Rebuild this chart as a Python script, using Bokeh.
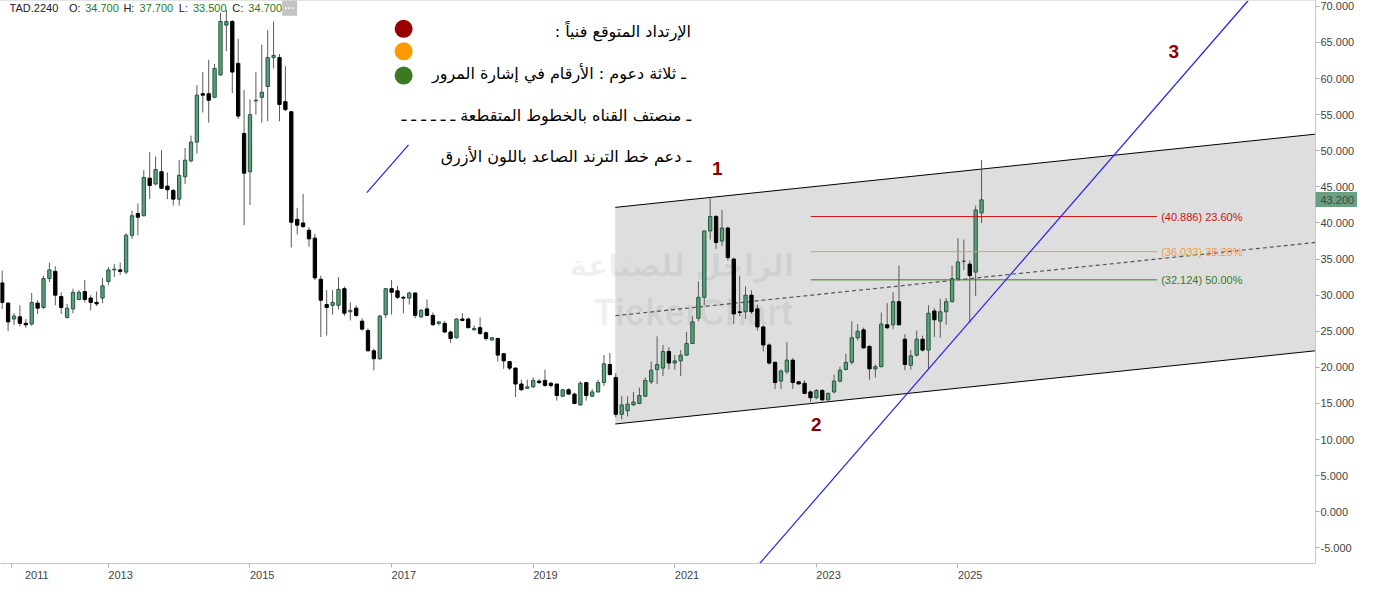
import pandas as pd
from bokeh.plotting import figure
from bokeh.models import Range1d, FixedTicker, NumeralTickFormatter, Span
from bokeh.core.properties import value
from bokeh.embed import file_html
from bokeh.resources import INLINE

# ---------------- data ----------------
start_month = "2011-07"
open_ = [31.7, 28.9, 26.7, 27.0, 26.1, 26.0, 28.9, 28.3, 32.3, 33.3,
         29.8, 26.9, 28.1, 29.4, 30.5, 29.6, 29.0, 29.6, 31.9, 33.5,
         33.5, 33.2, 38.3, 41.3, 41.0, 46.2, 45.4, 47.1, 45.1, 44.5,
         43.3, 46.4, 48.6, 51.2, 57.9, 57.9, 57.4, 60.5, 67.4, 67.9,
         62.1, 52.4, 47.1, 56.9, 57.4, 58.9, 62.9, 62.9, 56.8, 55.4,
         40.5, 40.0, 39.0, 37.9, 32.2, 28.7, 28.6, 28.6, 30.9, 27.7,
         28.2, 26.4, 25.1, 22.3, 21.2, 27.3, 30.9, 30.6, 29.7, 29.6,
         30.3, 27.0, 28.1, 27.2, 26.1, 26.1, 24.9, 24.1, 26.7, 26.7,
         25.2, 25.5, 24.8, 23.8, 24.0, 21.9, 20.8, 19.9, 17.7, 17.1,
         17.3, 18.1, 18.2, 17.8, 17.7, 16.0, 16.9, 16.3, 14.8, 17.9,
         16.0, 16.6, 17.9, 20.4, 18.6, 13.5, 14.0, 14.8, 15.0, 16.0,
         18.0, 19.7, 19.9, 22.2, 20.6, 20.9, 21.7, 23.3, 26.8, 29.7,
         38.9, 40.9, 37.5, 39.3, 35.0, 27.7, 27.7, 30.0, 28.1, 25.6,
         23.1, 20.7, 18.1, 19.4, 21.0, 18.0, 17.8, 16.6, 15.8, 16.8,
         15.5, 16.6, 18.1, 19.7, 20.7, 24.1, 25.2, 22.9, 19.8, 20.1,
         25.9, 25.9, 29.1, 23.9, 20.3, 21.7, 23.9, 22.4, 27.8, 26.4,
         27.7, 29.1, 32.3, 34.7, 34.3, 33.2, 41.4]
high = [33.4, 29.0, 27.5, 28.6, 26.7, 30.3, 29.3, 32.7, 34.5, 34.0,
        30.4, 28.8, 30.9, 30.7, 32.1, 30.0, 30.5, 32.4, 33.9, 34.3,
        34.5, 38.6, 41.7, 42.7, 47.3, 49.8, 49.2, 50.1, 47.0, 44.7,
        48.7, 50.4, 52.1, 59.1, 60.9, 62.6, 62.0, 69.1, 69.5, 68.1,
        65.5, 58.4, 57.1, 60.9, 64.7, 66.7, 67.9, 63.4, 61.7, 55.5,
        42.1, 44.0, 39.4, 38.5, 32.7, 30.7, 30.7, 32.5, 31.2, 29.0,
        28.6, 26.8, 25.4, 22.6, 27.3, 31.0, 32.1, 31.3, 29.9, 30.5,
        30.4, 28.1, 29.4, 27.6, 26.4, 26.4, 25.1, 26.8, 27.5, 26.9,
        25.8, 26.9, 25.0, 24.2, 24.1, 21.9, 20.9, 20.0, 18.3, 18.3,
        18.6, 18.4, 19.7, 18.0, 17.7, 17.0, 17.1, 16.5, 18.1, 18.0,
        17.0, 18.3, 21.7, 22.0, 19.2, 16.0, 16.0, 16.6, 17.2, 18.6,
        20.8, 24.3, 23.1, 22.8, 21.7, 22.4, 24.9, 27.1, 31.9, 38.9,
        43.4, 41.1, 41.8, 39.5, 35.2, 32.7, 31.2, 30.7, 28.7, 25.8,
        23.3, 20.8, 19.7, 23.5, 21.3, 18.1, 18.2, 16.8, 17.0, 17.0,
        16.5, 19.0, 20.1, 21.9, 26.4, 26.0, 25.5, 23.1, 20.4, 27.6,
        28.9, 30.4, 34.1, 24.6, 22.4, 25.1, 24.4, 28.6, 28.2, 29.5,
        29.6, 34.1, 37.9, 37.7, 34.8, 42.4, 48.7]
low = [28.1, 25.0, 25.9, 25.7, 25.5, 25.8, 27.4, 28.1, 31.8, 28.6,
       27.4, 26.8, 27.5, 29.3, 29.0, 27.9, 28.5, 28.9, 31.4, 32.5,
       32.8, 32.9, 37.8, 38.3, 40.9, 43.3, 45.2, 44.7, 43.3, 42.4,
       42.4, 45.4, 48.4, 49.6, 55.3, 53.9, 57.3, 60.4, 63.8, 58.0,
       54.4, 39.7, 42.5, 55.0, 53.9, 54.1, 61.4, 54.1, 55.5, 36.6,
       38.4, 39.3, 36.7, 32.1, 24.2, 24.4, 27.3, 28.0, 27.1, 26.5,
       27.0, 25.1, 22.2, 19.6, 21.0, 26.8, 27.3, 29.5, 27.5, 28.7,
       26.8, 26.8, 27.1, 25.8, 25.8, 24.8, 23.4, 24.0, 26.4, 25.4,
       25.1, 24.5, 23.7, 23.7, 20.8, 19.8, 19.6, 15.9, 16.8, 17.0,
       17.2, 17.7, 17.3, 17.2, 15.4, 15.9, 16.2, 14.9, 14.7, 15.4,
       15.9, 16.5, 17.4, 18.9, 13.1, 12.8, 13.2, 14.7, 14.9, 15.9,
       17.7, 17.7, 18.8, 19.7, 19.7, 18.8, 21.6, 23.3, 26.4, 28.6,
       37.7, 36.4, 36.8, 34.8, 26.0, 27.1, 26.7, 27.4, 25.1, 22.2,
       20.4, 17.0, 17.0, 19.1, 17.0, 17.7, 16.3, 15.2, 15.6, 15.4,
       15.4, 16.4, 17.9, 19.6, 20.4, 23.7, 22.6, 18.3, 18.6, 20.0,
       25.3, 25.3, 25.8, 19.6, 19.7, 21.5, 22.2, 19.7, 24.2, 24.1,
       25.9, 29.0, 32.2, 33.5, 26.2, 29.9, 40.0]
close = [29.0, 26.3, 27.1, 26.1, 25.9, 29.0, 28.2, 32.3, 33.5, 30.0,
         28.3, 28.2, 30.4, 30.4, 29.4, 29.0, 28.8, 31.3, 33.5, 33.6,
         33.3, 38.3, 41.0, 40.8, 46.3, 45.2, 47.4, 44.8, 44.6, 43.3,
         46.6, 48.7, 51.2, 57.7, 57.7, 57.0, 61.4, 67.9, 67.9, 60.9,
         54.8, 46.9, 55.0, 57.0, 58.1, 62.9, 63.2, 56.4, 55.7, 40.1,
         39.7, 39.5, 37.8, 32.4, 29.3, 28.3, 29.0, 30.8, 27.5, 27.9,
         27.2, 25.3, 22.3, 21.2, 27.1, 30.9, 30.4, 29.7, 29.6, 30.3,
         27.2, 27.9, 27.2, 25.9, 26.3, 24.9, 24.0, 26.7, 26.5, 25.5,
         25.4, 24.7, 24.0, 24.1, 21.7, 20.9, 19.9, 17.7, 16.9, 17.3,
         18.2, 17.9, 17.5, 17.5, 16.1, 16.9, 16.3, 15.0, 17.8, 16.1,
         16.6, 17.9, 20.5, 19.0, 13.5, 14.8, 14.9, 15.2, 16.1, 18.2,
         19.6, 20.4, 22.2, 20.6, 20.9, 21.7, 23.3, 26.3, 29.7, 38.9,
         40.9, 37.3, 39.3, 35.2, 27.4, 27.6, 30.0, 27.7, 25.6, 23.1,
         20.6, 17.9, 19.5, 21.0, 17.9, 17.7, 16.4, 15.8, 16.8, 15.5,
         16.4, 18.1, 19.6, 20.7, 24.1, 25.0, 22.7, 19.8, 20.1, 26.0,
         25.5, 29.1, 25.9, 20.4, 21.6, 23.9, 22.4, 27.5, 26.6, 27.7,
         29.1, 32.3, 34.6, 34.7, 32.7, 41.8, 43.2]

year_ticks = [2011.63, 2013, 2015, 2017, 2019, 2021, 2023, 2025]
year_labels = ["2011", "2013", "2015", "2017", "2019", "2021", "2023", "2025"]
price_ticks = [-5, 0, 5, 10, 15, 20, 25, 30, 35, 40, 45, 50, 55, 60, 65, 70]

# channel (start/end in years, prices of lower and upper bounds)
channel_x = [2020.16, 2030.05]
channel_low = [12.16, 22.30]
channel_high = [42.16, 52.30]
channel_mid = [27.16, 37.30]

# fibonacci retracement levels
fib_levels = [40.886, 36.033, 32.124]
fib_pct = ["23.60%", "38.20%", "50.00%"]
fib_colors = ["#cc1111", "#f39a3c", "#3b7a22"]
fib_x = [2022.92, 2027.81]

# uptrend support line
trend_x = [2022.20, 2029.10]
trend_y = [-7.16, 70.81]

last_price = 43.2
header_vals = ["34.700", "37.700", "33.500", "34.700"]
header_keys = ["O:", "H:", "L:", "C:"]

RLM = "\u200f"
legend_texts = ["الإرتداد المتوقع فنياً :" + RLM,
                "ـ ثلاثة دعوم :  الأرقام في إشارة المرور",
                "ـ منصتف القناه بالخطوط المتقطعة ـ ـ ـ ـ ـ ـ",
                "ـ دعم خط الترند الصاعد باللون الأزرق"]
dot_colors = ["#990000", "#ff9900", "#3a7a20"]

# ---------------- derived ----------------
months = pd.period_range(start_month, periods=len(close), freq="M")
xs = [m.year + (m.month - 1) / 12 for m in months]
up = [c >= o for o, c in zip(open_, close)]
df = pd.DataFrame(dict(x=xs, o=open_, h=high, l=low, c=close, up=up))
df["top"] = df[["o", "c"]].max(axis=1)
df["bot"] = df[["o", "c"]].min(axis=1)
inc = df[df.up]
dec = df[~df.up]

X0, X1 = 2011.476, 2030.05
Y0, Y1 = -7.16, 70.81

p = figure(width=1357, height=583, x_range=Range1d(X0, X1), y_range=Range1d(Y0, Y1),
           y_axis_location="right", output_backend="svg", toolbar_location=None,
           min_border_left=0, min_border_top=0, min_border_right=0, min_border_bottom=0,
           background_fill_color="white", border_fill_color="white")
p.grid.visible = False
p.outline_line_color = None

# axes
p.yaxis.ticker = FixedTicker(ticks=price_ticks + [last_price], minor_ticks=[last_price])
p.yaxis.formatter = NumeralTickFormatter(format="0.000")
p.xaxis.ticker = FixedTicker(ticks=year_ticks)
# labels start at their tick (left aligned look): pad with no-break spaces
p.xaxis.major_label_overrides = {t: "\u00a0" * 8 + s for t, s in zip(year_ticks, year_labels)}
for ax in (p.xaxis[0], p.yaxis[0]):
    ax.axis_line_color = "#c8c8c8"
    ax.major_tick_line_color = "#b0b0b0"
    ax.major_tick_in = 0
    ax.major_tick_out = 4
    ax.major_label_text_font = "Liberation Sans"
    ax.major_label_text_font_size = "11px"
    ax.major_label_text_color = "#444444"
    ax.major_label_standoff = 2
p.xaxis.minor_tick_line_color = None
p.xaxis.major_label_standoff = 1
# last-price tag: background drawn by one wide minor tick, its text is the tick label
p.yaxis.minor_tick_line_color = "#6a9f82"
p.yaxis.minor_tick_line_width = 15
p.yaxis.minor_tick_in = 0
p.yaxis.minor_tick_out = 44
p.yaxis.major_label_standoff = -39

p.add_layout(Span(location=Y1, dimension="width", line_color="#c8c8c8", line_width=1))

# channel
p.patch(x=[channel_x[0], channel_x[1], channel_x[1], channel_x[0]],
        y=[channel_low[0], channel_low[1], channel_high[1], channel_high[0]],
        fill_color="#dedede", line_color=None)
p.line(channel_x, channel_low, line_color="black", line_width=1)
p.line(channel_x, channel_high, line_color="black", line_width=1)
p.line(channel_x, channel_mid, line_color="#555555", line_width=1.2, line_dash="4 3")

# watermark
p.text(x=[2021.10], y=[34.05], text=["الزاجل للصناعة"], text_font=value("DejaVu Sans"),
       text_font_size="30px", text_font_style="bold", text_align="center",
       text_baseline="middle", text_color="black", text_alpha=0.06)
p.text(x=[2019.85], y=[27.57], text=["TickerChart"], text_font=value("Liberation Sans"),
       text_font_size="36px", text_font_style="bold", text_align="left",
       text_baseline="middle", text_color="black", text_alpha=0.06)

# candles
p.segment(x0="x", y0="h", x1="x", y1="l", source=inc, line_color="#5a5a5a", line_width=1)
p.segment(x0="x", y0="h", x1="x", y1="l", source=dec, line_color="#5a5a5a", line_width=1)
bw = 0.047
p.vbar(x="x", top="top", bottom="bot", width=bw, source=inc,
       fill_color="#5f9e7c", line_color="#22583b", line_width=1)
p.vbar(x="x", top="top", bottom="bot", width=bw, source=dec,
       fill_color="black", line_color="black", line_width=1)

# fib levels
for lvl, pct, col in zip(fib_levels, fib_pct, fib_colors):
    p.line(fib_x, [lvl, lvl], line_color=col, line_width=1)
    p.text(x=[fib_x[1] + 0.06], y=[lvl], text=[f"({lvl:.3f}) {pct}"],
           text_font=value("Liberation Sans"), text_font_size="11px",
           text_color=col, text_baseline="middle", text_align="left")

# trend line
p.line(trend_x, trend_y, line_color="#2222ee", line_width=1.2)

# legend block
p.scatter(x=[2017.17] * 3, y=[66.89, 63.78, 60.41], size=18, color=dot_colors, line_color=None)
p.text(x=[2021.23] * 4, y=[66.49, 60.68, 54.86, 49.19], text=legend_texts,
       text_font=value("DejaVu Sans"), text_font_size="16px", text_color="black",
       text_align="right", text_baseline="middle")
p.line([2016.65, 2017.24], [44.19, 50.81], line_color="#2222ee", line_width=1.2)

# wave numbers
p.text(x=[2021.60, 2023.00, 2028.05], y=[47.57, 12.03, 63.78], text=["1", "2", "3"],
       text_font=value("Liberation Sans"), text_font_size="19px", text_font_style="bold",
       text_color="#8b0000", text_align="center", text_baseline="middle")

# header
hy = 69.8
p.text(x=[2011.604], y=[hy], text=["TAD.2240"], text_font=value("Liberation Sans"),
       text_font_size="11px", text_color="#222222", text_baseline="middle")
hx_keys = [2012.444, 2013.212, 2013.995, 2014.750]
hx_vals = [2012.672, 2013.440, 2014.194, 2014.977]
p.text(x=hx_keys, y=[hy] * 4, text=header_keys, text_font=value("Liberation Sans"),
       text_font_size="11px", text_color="#222222", text_baseline="middle")
p.text(x=hx_vals, y=[hy] * 4, text=header_vals, text_font=value("Liberation Sans"),
       text_font_size="11px", text_color="#1e7a1e", text_baseline="middle")
p.text(x=[2015.56], y=[hy], text=["···"], text_font=value("Liberation Sans"),
       text_font_size="11px", text_font_style="bold", text_color="white",
       text_align="center", text_baseline="middle",
       background_fill_color="#c4c4c4", padding=2)

open("out.html", "w").write(file_html(p, INLINE))
